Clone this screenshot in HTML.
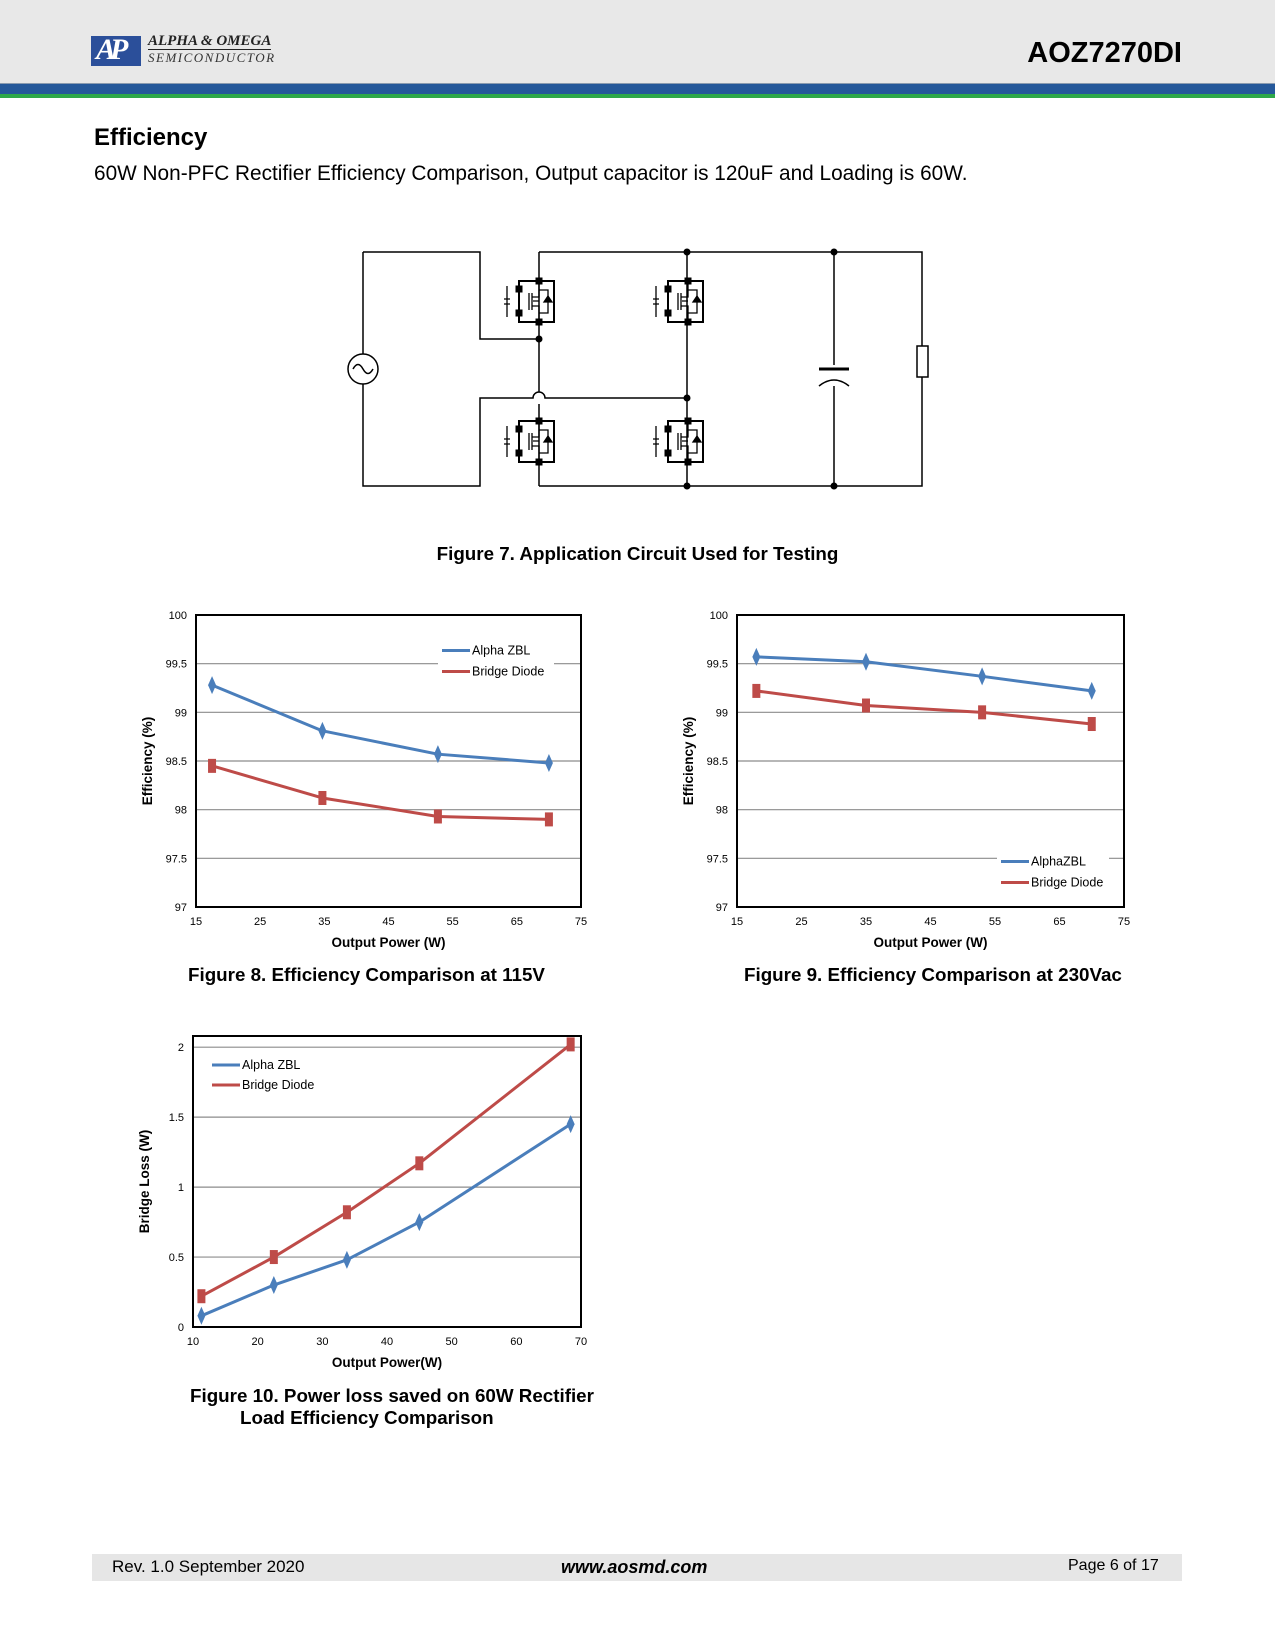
<!DOCTYPE html>
<html><head><meta charset="utf-8"><style>
body{margin:0;width:1275px;height:1650px;background:#fff;position:relative;font-family:"Liberation Sans",sans-serif;overflow:hidden}
.abs{position:absolute}
</style></head><body>
<div class="abs" style="left:0;top:0;width:1275px;height:83px;background:#e8e8e8"></div>
<div class="abs" style="left:0;top:83px;width:1275px;height:11px;background:#25589a;border-top:1px solid #8a9bb0"></div>
<div class="abs" style="left:0;top:94px;width:1275px;height:4px;background:#2ea84a"></div>
<div class="abs" style="left:91px;top:36px;width:50px;height:30px;background:#2b4f9a"></div>
<div class="abs" style="left:96px;top:33px;font:italic bold 30px 'Liberation Serif',serif;color:#fff;letter-spacing:-6px">AP</div>
<div class="abs" style="left:148px;top:33px;font:italic bold 15px 'Liberation Serif',serif;color:#222;border-bottom:1.5px solid #222;line-height:16px">ALPHA &amp; OMEGA</div>
<div class="abs" style="left:148px;top:50px;font:italic 13px 'Liberation Serif',serif;color:#333;letter-spacing:1.5px">SEMICONDUCTOR</div>
<div class="abs" style="right:93px;top:37px;font:bold 29px 'Liberation Sans',sans-serif;color:#000">AOZ7270DI</div>
<div class="abs" style="left:94px;top:124px;font:bold 24px 'Liberation Sans',sans-serif">Efficiency</div>
<div class="abs" style="left:94px;top:162px;font:20.8px 'Liberation Sans',sans-serif">60W Non-PFC Rectifier Efficiency Comparison, Output capacitor is 120uF and Loading is 60W.</div>

<svg class="abs" style="left:0;top:0" width="1275" height="520" fill="none" stroke="#000" stroke-width="1.5">
<path d="M363 252 H480 V339 H539 M539 252 H922 V486 H539 M363 252 V354 M363 384 V486 H480 V398 H533 A6 6 0 0 1 545 398 H687 M539 252 V339 V392 M539 404 V486 M687 252 V486 M834 252 V365 M834 386 V486"/>
<circle cx="363" cy="369" r="15"/>
<path d="M353 369 q5 -9 10 0 t10 0"/>
<line x1="819" y1="369" x2="849" y2="369" stroke-width="3"/>
<path d="M819 386 Q834 374 849 386"/>
<rect x="917" y="346" width="11" height="31" fill="#fff"/>
<g fill="#000" stroke="none">
<circle cx="687" cy="252" r="3.5"/><circle cx="834" cy="252" r="3.5"/><circle cx="539" cy="339" r="3.5"/><circle cx="687" cy="398" r="3.5"/><circle cx="687" cy="486" r="3.5"/><circle cx="834" cy="486" r="3.5"/>
</g>
</svg>
<svg class="abs" style="left:0;top:0" width="1275" height="520" id="fets"></svg>

<div class="abs" style="left:0;width:1275px;text-align:center;top:543px;font:bold 18.8px 'Liberation Sans',sans-serif">Figure 7. Application Circuit Used for Testing</div>

<svg class="abs" id="chart1" style="left:0;top:0" width="1275" height="1650"></svg>

<div class="abs" style="left:188px;top:964px;font:bold 18.8px 'Liberation Sans',sans-serif">Figure 8. Efficiency Comparison at 115V</div>
<div class="abs" style="left:744px;top:964px;font:bold 18.8px 'Liberation Sans',sans-serif">Figure 9. Efficiency Comparison at 230Vac</div>
<div class="abs" style="left:190px;top:1385px;font:bold 18.8px 'Liberation Sans',sans-serif;line-height:22px">Figure 10. Power loss saved on 60W Rectifier</div>
<div class="abs" style="left:240px;top:1407px;font:bold 18.8px 'Liberation Sans',sans-serif;line-height:22px">Load Efficiency Comparison</div>

<div class="abs" style="left:92px;top:1554px;width:1090px;height:27px;background:#e6e6e6"></div>
<div class="abs" style="left:112px;top:1557px;font:17px 'Liberation Sans',sans-serif">Rev. 1.0 September 2020</div>
<div class="abs" style="left:561px;top:1557px;font:italic bold 18px 'Liberation Sans',sans-serif">www.aosmd.com</div>
<div class="abs" style="left:1068px;top:1557px;font:16px 'Liberation Sans',sans-serif">Page 6 of 17</div>

<script>
// ---- Chart 1: 115V ----
const c1X = [17.5, 34.7, 52.7, 70];
const c1Alpha = [99.28, 98.81, 98.57, 98.48];
const c1Bridge = [98.45, 98.12, 97.93, 97.9];
const c1XTicks = [15, 25, 35, 45, 55, 65, 75];
const c1YTicks = [97, 97.5, 98, 98.5, 99, 99.5, 100];
// ---- Chart 2: 230Vac ----
const c2X = [18, 35, 53, 70];
const c2Alpha = [99.57, 99.52, 99.37, 99.22];
const c2Bridge = [99.22, 99.07, 99.0, 98.88];
const c2XTicks = [15, 25, 35, 45, 55, 65, 75];
const c2YTicks = [97, 97.5, 98, 98.5, 99, 99.5, 100];
// ---- Chart 3: bridge loss ----
const c3X = [11.3, 22.5, 33.8, 45, 68.4];
const c3Alpha = [0.08, 0.30, 0.48, 0.75, 1.45];
const c3Bridge = [0.22, 0.50, 0.82, 1.17, 2.02];
const c3XTicks = [10, 20, 30, 40, 50, 60, 70];
const c3YTicks = [0, 0.5, 1, 1.5, 2];

const NS = 'http://www.w3.org/2000/svg';
const svg = document.getElementById('chart1');
function mk(tag, attrs, parent) {
  const e = document.createElementNS(NS, tag);
  for (const k in attrs) e.setAttribute(k, attrs[k]);
  (parent || svg).appendChild(e);
  return e;
}
const fsvg = document.getElementById('fets');
[[519,281],[668,281],[519,421],[668,421]].forEach(([x,y]) => {
  const g = mk('g', {fill:'none', stroke:'#000', 'stroke-width':1.3}, fsvg);
  
  
  mk('rect', {x:x, y:y, width:35, height:41, 'stroke-width':2}, g);
  mk('path', {d:`M${x-12} ${y+5} V${y+36} M${x-15} ${y+18} h6 M${x-15} ${y+23} h6 M${x+10} ${y+12} v17 M${x+13} ${y+12} v17 M${x+13} ${y+16} h7 v-13 M${x+13} ${y+25} h7 v13 M${x+20} ${y+20} h-6 M${x+20} ${y+9} h9 v23 h-9`}, g);
  mk('path', {d:`M${x+25} ${y+21} l4 -6 l4 6 z`, fill:'#000'}, g);
  [[x,y+8],[x,y+32],[x+20,y],[x+20,y+41]].forEach(([a,b]) => mk('rect', {x:a-3.5, y:b-3.5, width:7, height:7, fill:'#000', stroke:'none'}, g));
});

function chart(o) {
  const {L, R, T, B, xmin, xmax, ymin, ymax, xt, yt, series, legend, xtitle, ytitle, name} = o;
  const g = mk('g', {});
  
  
  const sx = v => L + (v - xmin) / (xmax - xmin) * (R - L);
  const sy = v => B - (v - ymin) / (ymax - ymin) * (B - T);
  yt.forEach(v => {
    const gl = mk('line', {x1:L, x2:R, y1:sy(v), y2:sy(v), stroke:'#8c8c8c', 'stroke-width':1.2}, g);
    
    
    const t = mk('text', {x:L - 9, y:sy(v) + 4, 'text-anchor':'end', 'font-size':11, 'font-family':'Liberation Sans'}, g);
    
    
    t.textContent = v;
  });
  xt.forEach(v => {
    const t = mk('text', {x:sx(v), y:B + 18, 'text-anchor':'middle', 'font-size':11, 'font-family':'Liberation Sans'}, g);
    
    
    t.textContent = v;
  });
  const lg = mk('g', {}, g);
  
  
  mk('rect', {x:legend.x, y:legend.y, width:legend.w, height:legend.h, fill:'#fff'}, lg);
  series.forEach((s, i) => {
    const pts = s.xs.map((x, j) => sx(x) + ',' + sy(s.ys[j])).join(' ');
    const pl = mk('polyline', {points:pts, fill:'none', stroke:s.color, 'stroke-width':3, 'stroke-linejoin':'round'}, g);
    
    
    s.xs.forEach((x, j) => {
      const cx = sx(x), cy = sy(s.ys[j]);
      let m;
      if (s.marker === 'diamond') m = mk('path', {d:`M${cx} ${cy-9} L${cx+4} ${cy} L${cx} ${cy+9} L${cx-4} ${cy} Z`, fill:s.color}, g);
      else m = mk('rect', {x:cx-4, y:cy-7, width:8, height:14, fill:s.color}, g);
      
      
    });
    const ly = legend.y + legend.h / 4 + i * legend.h / 2 + 1;
    mk('line', {x1:legend.x + 4, x2:legend.x + 32, y1:ly, y2:ly, stroke:s.color, 'stroke-width':3}, lg);
    const lt = mk('text', {x:legend.x + 34, y:ly + 4, 'font-size':12.5, 'font-family':'Liberation Sans'}, lg);
    
    
    lt.textContent = s.label;
  });
  const fr = mk('rect', {x:L, y:T, width:R - L, height:B - T, fill:'none', stroke:'#000', 'stroke-width':2}, g);
  
  
  const xtl = mk('text', {x:(L + R) / 2, y:B + 40, 'text-anchor':'middle', 'font-size':13.5, 'font-weight':'bold', 'font-family':'Liberation Sans'}, g);
  
  
  xtl.textContent = xtitle;
  const ytl = mk('text', {x:0, y:0, transform:`translate(${L - 44},${(T + B) / 2}) rotate(-90)`, 'text-anchor':'middle', 'font-size':13.5, 'font-weight':'bold', 'font-family':'Liberation Sans'}, g);
  
  
  ytl.textContent = ytitle;
}
const BLUE = '#4a7ebb', RED = '#be4b48';
chart({name:'efficiency-115v-plot', L:196, R:581, T:615, B:907, xmin:15, xmax:75, ymin:97, ymax:100, xt:c1XTicks, yt:c1YTicks,
  xtitle:'Output Power (W)', ytitle:'Efficiency (%)', legend:{x:438, y:639, w:116, h:42},
  series:[{id:'alpha-zbl', label:'Alpha ZBL', xs:c1X, ys:c1Alpha, color:BLUE, marker:'diamond'},
          {id:'bridge-diode', label:'Bridge Diode', xs:c1X, ys:c1Bridge, color:RED, marker:'square'}]});
chart({name:'efficiency-230v-plot', L:737, R:1124, T:615, B:907, xmin:15, xmax:75, ymin:97, ymax:100, xt:c2XTicks, yt:c2YTicks,
  xtitle:'Output Power (W)', ytitle:'Efficiency (%)', legend:{x:997, y:850, w:112, h:42},
  series:[{id:'alpha-zbl', label:'AlphaZBL', xs:c2X, ys:c2Alpha, color:BLUE, marker:'diamond'},
          {id:'bridge-diode', label:'Bridge Diode', xs:c2X, ys:c2Bridge, color:RED, marker:'square'}]});
chart({name:'bridge-loss-plot', L:193, R:581, T:1036, B:1327, xmin:10, xmax:70, ymin:0, ymax:2.08, xt:c3XTicks, yt:c3YTicks,
  xtitle:'Output Power(W)', ytitle:'Bridge Loss (W)', legend:{x:208, y:1054, w:120, h:40},
  series:[{id:'alpha-zbl', label:'Alpha ZBL', xs:c3X, ys:c3Alpha, color:BLUE, marker:'diamond'},
          {id:'bridge-diode', label:'Bridge Diode', xs:c3X, ys:c3Bridge, color:RED, marker:'square'}]});
</script>
</body></html>
